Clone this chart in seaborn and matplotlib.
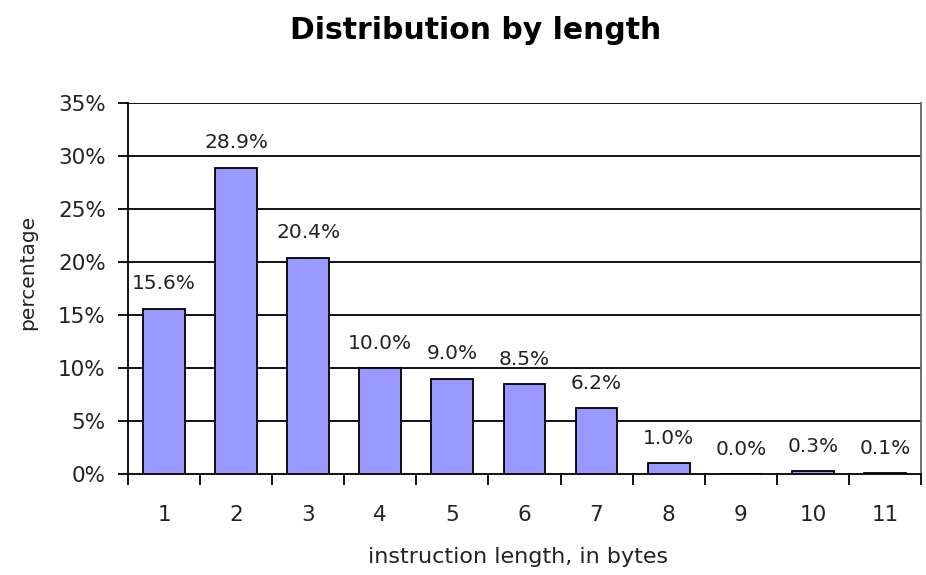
import matplotlib
matplotlib.use("Agg")
import matplotlib.pyplot as plt
import seaborn as sns
import pandas as pd
import numpy as np

# Instruction length distribution
lengths = ["1", "2", "3", "4", "5", "6", "7", "8", "9", "10", "11"]
percentages = [15.6, 28.9, 20.4, 10.0, 9.0, 8.5, 6.2, 1.0, 0.0, 0.3, 0.1]
y_ticks = [0, 5, 10, 15, 20, 25, 30, 35]

df = pd.DataFrame({"length": lengths, "pct": percentages})

sns.set_theme(style="white")
plt.rcParams["font.family"] = ["DejaVu Sans"]

fig = plt.figure(figsize=(9.26, 5.75), dpi=100)
ax = fig.add_axes([0.1382, 0.1757, 0.9946 - 0.1382, 0.8209 - 0.1757])

sns.barplot(data=df, x="length", y="pct", color="#9999FF", saturation=1,
            width=0.58, edgecolor="black", linewidth=1.3, ax=ax, zorder=3)

ax.set_ylim(0, 35)
ax.set_xlim(-0.5, len(lengths) - 0.5)

# horizontal gridlines
ax.set_yticks(y_ticks)
ax.set_yticklabels([f"{v}%" for v in y_ticks], fontsize=15.5, color="#222222")
for v in y_ticks[1:]:
    ax.axhline(v, color="black", linewidth=1.3, zorder=1)

# tick marks between categories, labels centred on categories
ax.set_xticks(np.arange(-0.5, len(lengths), 1.0))
ax.set_xticklabels([])
ax.set_xticks(np.arange(len(lengths)), minor=True)
ax.set_xticklabels(lengths, minor=True, fontsize=15.5, color="#222222")
ax.tick_params(axis="x", which="major", direction="out", length=8, width=1.3,
               color="black", bottom=True)
ax.tick_params(axis="x", which="minor", length=0, pad=22)
ax.tick_params(axis="y", direction="out", length=7, width=1.3, color="black",
               left=True, pad=9)

for side in ["left", "bottom"]:
    ax.spines[side].set_color("black")
    ax.spines[side].set_linewidth(1.3)
ax.spines["top"].set_visible(False)
ax.spines["right"].set_color("#666666")
ax.spines["right"].set_linewidth(1.3)

# value labels
for i, v in enumerate(percentages):
    ax.annotate(f"{v:.1f}%", (i, v), xytext=(0, 11), textcoords="offset points",
                ha="center", va="bottom", fontsize=14.5, color="#222222")

ax.set_xlabel("instruction length, in bytes", fontsize=16, color="#222222")
ax.xaxis.set_label_coords(0.492, -0.198)
ax.set_ylabel("percentage", fontsize=14.5, color="#222222")
ax.yaxis.set_label_coords(-0.114, 0.542)
fig.text(0.514, 0.947, "Distribution by length", ha="center", va="center",
         fontsize=21.5, fontweight="bold", color="black")

fig.savefig("out.png", dpi=100)
